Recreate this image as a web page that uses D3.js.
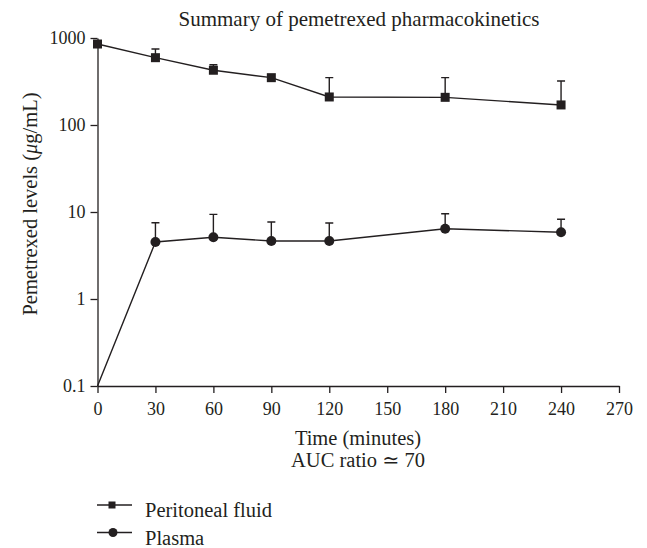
<!DOCTYPE html>
<meta charset="utf-8">
<style>
body { margin: 0; background: #fff; }
text { font-family: "Liberation Serif", "DejaVu Serif", serif; fill: #231f20; }
.axis path, .axis line { stroke: #231f20; stroke-width: 1.3px; }
.axis text { font-size: 18px; }
.series { fill: none; stroke: #231f20; stroke-width: 1.4px; }
.err { stroke: #231f20; stroke-width: 1.4px; }
.label { font-size: 20.5px; }
</style>
<svg width="647" height="548"></svg>
<script src="https://d3js.org/d3.v7.min.js"></script>
<script>

var times = [0, 30, 60, 90, 120, 180, 240];
var peritoneal = [853, 594, 426, 350, 210, 208, 170];
var peritonealUpper = [900, 748, 493, 350, 350, 350, 321];
var plasma = [0.1, 4.52, 5.12, 4.64, 4.64, 6.43, 5.84];
var plasmaUpper = [0.1, 7.53, 9.4, 7.67, 7.48, 9.55, 8.24];
var xTicks = [0, 30, 60, 90, 120, 150, 180, 210, 240, 270];
var yTicks = [0.1, 1, 10, 100, 1000];

var svg = d3.select("svg");

var x = d3.scaleLinear().domain([0, 270]).range([97.5, 619]);
var y = d3.scaleLog().domain([0.1, 1000]).range([386, 38]);

svg.append("g")
    .attr("class", "axis")
    .attr("transform", "translate(0,386)")
    .call(d3.axisBottom(x).tickValues(xTicks).tickSize(7).tickPadding(9).tickSizeOuter(0))
  .selectAll("text").attr("fill", "#231f20");

svg.append("g")
    .attr("class", "axis")
    .attr("transform", "translate(97.5,0)")
    .call(d3.axisLeft(y).tickValues(yTicks).tickFormat(d3.format("~g")).tickSize(7).tickPadding(5).tickSizeOuter(0))
  .selectAll("text").attr("fill", "#231f20");

svg.selectAll(".axis .domain").attr("stroke", "#231f20");

var line = d3.line()
    .x(function(d) { return x(d.t); })
    .y(function(d) { return y(d.v); });

function draw(vals, upper, shape) {
  var data = times.map(function(t, i) { return {t: t, v: vals[i], u: upper[i]}; });
  var g = svg.append("g");
  g.selectAll(".err").data(data.filter(function(d) { return d.u > d.v; }))
    .enter().append("path")
      .attr("class", "err")
      .attr("d", function(d) {
        var cx = x(d.t), y0 = y(d.v), y1 = y(d.u);
        return "M" + cx + "," + y0 + "V" + y1 + "M" + (cx - 4) + "," + y1 + "H" + (cx + 4);
      });
  g.append("path").datum(data).attr("class", "series").attr("d", line);
  if (shape == "square") {
    g.selectAll("rect").data(data)
      .enter().append("rect")
        .attr("x", function(d) { return x(d.t) - 4.5; })
        .attr("y", function(d) { return y(d.v) - 4.5; })
        .attr("width", 9).attr("height", 9)
        .attr("fill", "#231f20");
  } else {
    g.selectAll("circle").data(data.filter(function(d) { return d.t > 0; }))
      .enter().append("circle")
        .attr("cx", function(d) { return x(d.t); })
        .attr("cy", function(d) { return y(d.v); })
        .attr("r", 5)
        .attr("fill", "#231f20");
  }
}

draw(peritoneal, peritonealUpper, "square");
draw(plasma, plasmaUpper, "circle");

svg.append("text")
    .attr("class", "label")
    .attr("x", 359).attr("y", 26)
    .attr("text-anchor", "middle")
    .style("font-size", "21px")
    .text("Summary of pemetrexed pharmacokinetics");

svg.append("text")
    .attr("class", "label")
    .attr("x", 358).attr("y", 445)
    .attr("text-anchor", "middle")
    .text("Time (minutes)");

svg.append("text")
    .attr("class", "label")
    .attr("x", 358).attr("y", 467)
    .attr("text-anchor", "middle")
    .text("AUC ratio \u2243 70");

var yl = svg.append("text")
    .attr("class", "label")
    .attr("transform", "translate(37,204) rotate(-90)")
    .attr("text-anchor", "middle");
yl.append("tspan").text("Pemetrexed levels (");
yl.append("tspan").style("font-style", "italic").text("\u03bc");
yl.append("tspan").text("g/mL)");

// legend
var legend = [
  {name: "Peritoneal fluid", shape: "square", y: 505},
  {name: "Plasma", shape: "circle", y: 532.5}
];
var lg = svg.append("g").selectAll("g").data(legend).enter().append("g");
lg.append("line")
    .attr("x1", 97).attr("x2", 132)
    .attr("y1", function(d) { return d.y; }).attr("y2", function(d) { return d.y; })
    .attr("stroke", "#231f20").attr("stroke-width", 1.4);
lg.filter(function(d) { return d.shape == "square"; }).append("rect")
    .attr("x", 108.5).attr("y", function(d) { return d.y - 3.5; })
    .attr("width", 7).attr("height", 7).attr("fill", "#231f20");
lg.filter(function(d) { return d.shape == "circle"; }).append("circle")
    .attr("cx", 113).attr("cy", function(d) { return d.y; })
    .attr("r", 4.5).attr("fill", "#231f20");
lg.append("text")
    .attr("class", "label")
    .attr("x", 145).attr("y", function(d) { return d.y + 12; })
    .text(function(d) { return d.name; });

</script>
